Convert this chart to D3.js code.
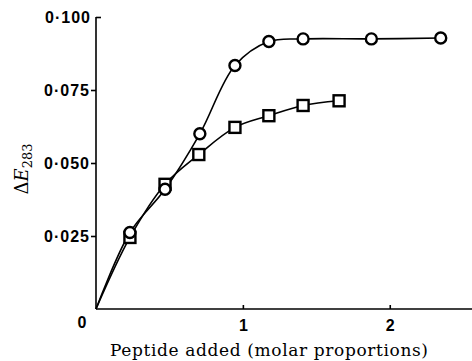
<!DOCTYPE html>
<html lang="en">
<head>
    <meta charset="UTF-8">
    <title>Peptide titration</title>
    <style>
        body { margin: 0; background: #fff; }
    </style>
</head>
<body>

<div id="chart"></div>

<script src="https://cdn.jsdelivr.net/npm/d3@7"></script>
<script>
    const width = 472,
          height = 361;

    // peptide added (molar proportions)
    const circleX = [0, 0.231, 0.47, 0.707, 0.946, 1.177, 1.41, 1.875, 2.347];
    const circleY = [0, 0.0262, 0.0410, 0.0600, 0.0834, 0.0916, 0.0925, 0.0925, 0.0928];
    const squareX = [0, 0.231, 0.47, 0.70, 0.946, 1.177, 1.41, 1.655];
    const squareY = [0, 0.0245, 0.0427, 0.0529, 0.0622, 0.0662, 0.0697, 0.0713];
    const yTicks = [0.025, 0.05, 0.075, 0.1];
    const xTicks = [1, 2];

    let svg = d3.select("#chart")
        .append("svg")
        .attr("width", width)
        .attr("height", height)
        .style("background-color", "#fff");

    let x = d3.scaleLinear().domain([0, 2.56]).range([96, 472]);
    let y = d3.scaleLinear().domain([0, 0.1]).range([309, 17]);

    const tickFont = "'Liberation Sans', Arial, sans-serif";
    const serif = "'DejaVu Serif', 'Liberation Serif', serif";

    // y axis
    let yAxis = svg.append("g")
        .attr("transform", `translate(${x(0)},0)`)
        .call(d3.axisLeft(y)
            .tickValues(yTicks)
            .tickSize(5)
            .tickSizeOuter(0)
            .tickPadding(2)
            .tickFormat(d => "0\u00b7" + d3.format(".3f")(d).slice(2)));
    yAxis.select(".domain").attr("d", `M0,${y(0)}V${y(0.1)}`).attr("stroke-width", 1.6);
    yAxis.selectAll(".tick line").attr("stroke-width", 1.6)
        .filter(d => d === 0.1).attr("x2", 5);
    yAxis.selectAll(".tick text")
        .style("font-family", tickFont)
        .style("font-weight", "bold")
        .style("font-size", "16px")
        .attr("textLength", 45)
        .filter(d => d === 0.1).attr("x", -6);

    // x axis
    let xAxis = svg.append("g")
        .attr("transform", `translate(0,${y(0)})`)
        .call(d3.axisBottom(x)
            .tickValues(xTicks)
            .tickSize(-4)
            .tickSizeOuter(0)
            .tickPadding(11)
            .tickFormat(d3.format("d")));
    xAxis.select(".domain").attr("d", `M${x(0)},0H${width}`).attr("stroke-width", 1.6);
    xAxis.selectAll(".tick line").attr("stroke-width", 1.6);
    xAxis.selectAll(".tick text")
        .style("font-family", tickFont)
        .style("font-weight", "bold")
        .style("font-size", "16px");

    svg.append("text")
        .attr("x", 82)
        .attr("y", 328)
        .attr("text-anchor", "middle")
        .style("font-family", tickFont)
        .style("font-weight", "bold")
        .style("font-size", "16px")
        .text("0");

    // axis titles
    svg.append("text")
        .attr("x", 269)
        .attr("y", 356)
        .attr("text-anchor", "middle")
        .attr("textLength", 318)
        .style("font-family", serif)
        .style("font-size", "17px")
        .text("Peptide added (molar proportions)");

    let yl = svg.append("text")
        .attr("transform", "translate(28,169) rotate(-90)")
        .attr("text-anchor", "middle")
        .style("font-family", serif)
        .style("font-size", "18px");
    yl.append("tspan").text("\u0394");
    yl.append("tspan").style("font-style", "italic").text("E");
    yl.append("tspan").attr("dy", 4).style("font-size", "13px").text("283");

    // curves
    let line = d3.line()
        .x(d => x(d[0]))
        .y(d => y(d[1]))
        .curve(d3.curveCatmullRom.alpha(0.5));

    let circles = d3.zip(circleX, circleY);
    let squares = d3.zip(squareX, squareY);

    svg.append("g")
        .attr("fill", "none")
        .attr("stroke", "#000")
        .attr("stroke-width", 1.6)
        .selectAll("path")
        .data([circles, squares])
        .join("path")
            .attr("d", line);

    svg.append("g")
        .selectAll("rect")
        .data(squares.slice(1))
        .join("rect")
            .attr("x", d => x(d[0]) - 5.5)
            .attr("y", d => y(d[1]) - 5.5)
            .attr("width", 11)
            .attr("height", 11)
            .attr("fill", "#fff")
            .attr("stroke", "#000")
            .attr("stroke-width", 2.4);

    svg.append("g")
        .selectAll("circle")
        .data(circles.slice(1))
        .join("circle")
            .attr("cx", d => x(d[0]))
            .attr("cy", d => y(d[1]))
            .attr("r", 5.5)
            .attr("fill", "#fff")
            .attr("stroke", "#000")
            .attr("stroke-width", 2.4);
</script>
</body>
</html>
